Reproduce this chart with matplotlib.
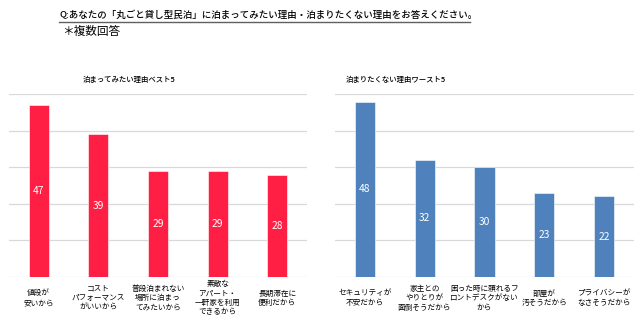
import matplotlib
matplotlib.use("Agg")
import matplotlib.pyplot as plt

plt.rcParams["font.family"] = ["Noto Sans CJK JP", "DejaVu Sans"]

TITLE = "Q:あなたの「丸ごと貸し型民泊」に泊まってみたい理由・泊まりたくない理由をお答えください。"
NOTE = "＊複数回答"

best_title = "泊まってみたい理由ベスト5"
best_labels = [
    "値段が\n安いから",
    "コスト\nパフォーマンス\nがいいから",
    "普段泊まれない\n場所に泊まっ\nてみたいから",
    "素敵な\nアパート・\n一軒家を利用\nできるから",
    "長期滞在に\n便利だから",
]
best_values = [47, 39, 29, 29, 28]

worst_title = "泊まりたくない理由ワースト5"
worst_labels = [
    "セキュリティが\n不安だから",
    "家主との\nやりとりが\n面倒そうだから",
    "困った時に頼れるフ\nロントデスクがない\nから",
    "部屋が\n汚そうだから",
    "プライバシーが\nなさそうだから",
]
worst_values = [48, 32, 30, 23, 22]

RED = "#FF1F45"
BLUE = "#4F81BD"
GRID = "#D9D9D9"

W, H = 640, 329
fig = plt.figure(figsize=(W / 100, H / 100), dpi=100)


def draw_panel(rect, labels, values, color):
    ax = fig.add_axes(rect)
    x = range(len(values))
    ax.bar(x, values, width=0.335, color=color, edgecolor="white",
           linewidth=0.4, zorder=3)
    for xi, v in zip(x, values):
        ax.text(xi, v / 2, str(v), color="white", ha="center", va="center",
                fontsize=7.4, zorder=4)
    ax.set_xlim(-0.5, len(values) - 0.5)
    ax.set_ylim(0, 50)
    ax.set_yticks([0, 10, 20, 30, 40, 50])
    ax.yaxis.grid(True, color=GRID, linewidth=0.9, zorder=0)
    ax.set_xticks(list(x))
    ax.set_xticklabels(labels, fontsize=5.5, linespacing=1.25, va="center")
    ax.tick_params(axis="x", length=0, pad=15.5)
    ax.tick_params(axis="y", length=0, labelleft=False)
    for s in ax.spines.values():
        s.set_visible(False)
    return ax


draw_panel([9 / W, 1 - 276.7 / H, 298 / W, 182.4 / H],
           best_labels, best_values, RED)
draw_panel([335 / W, 1 - 276.7 / H, 299 / W, 182.4 / H],
           worst_labels, worst_values, BLUE)

# headings
fig.text(59 / W, 1 - 15 / H, TITLE, fontsize=6.8, ha="left", va="center",
         fontweight="medium")
fig.add_artist(plt.Line2D([59 / W, 470 / W], [1 - 21.5 / H, 1 - 21.5 / H],
                          color="#606060", linewidth=1.0))
fig.text(62 / W, 1 - 31 / H, NOTE, fontsize=8.4, ha="left", va="center")

fig.text(129 / W, 1 - 80 / H, best_title, fontsize=5.3, ha="center",
         va="center", fontweight="medium")
fig.text(396 / W, 1 - 80 / H, worst_title, fontsize=5.3, ha="center",
         va="center", fontweight="medium")

fig.savefig("out.png", dpi=100, facecolor="white")
